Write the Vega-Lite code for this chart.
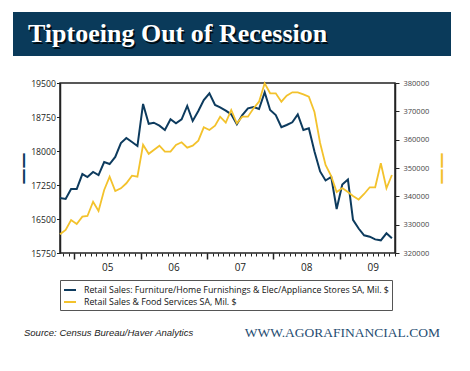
{
  "$schema": "https://vega.github.io/schema/vega-lite/v6.json",
  "background": "white",
  "padding": {"top": 12, "left": 13, "right": 10, "bottom": 5},
  "spacing": 14,
  "columns": 1,
  "align": "none",
  "bounds": "full",
  "config": {"font": "Open Sans", "view": {"stroke": null}},
  "resolve": {"scale": {"color": "independent"}, "legend": {"color": "independent"}},
  "datasets": {
    "sales": [
      {"date": "2004-10-15", "furniture": 16963, "retail": 326606},
      {"date": "2004-11-15", "furniture": 16941, "retail": 328124},
      {"date": "2004-12-15", "furniture": 17162, "retail": 331653},
      {"date": "2005-01-15", "furniture": 17162, "retail": 330241},
      {"date": "2005-02-15", "furniture": 17492, "retail": 332829},
      {"date": "2005-03-15", "furniture": 17426, "retail": 333064},
      {"date": "2005-04-15", "furniture": 17537, "retail": 338111},
      {"date": "2005-05-15", "furniture": 17470, "retail": 334829},
      {"date": "2005-06-15", "furniture": 17757, "retail": 342240},
      {"date": "2005-07-15", "furniture": 17713, "retail": 346934},
      {"date": "2005-08-15", "furniture": 17868, "retail": 341887},
      {"date": "2005-09-15", "furniture": 18176, "retail": 342829},
      {"date": "2005-10-15", "furniture": 18287, "retail": 344605},
      {"date": "2005-11-15", "furniture": 18199, "retail": 347288},
      {"date": "2005-12-15", "furniture": 18110, "retail": 346934},
      {"date": "2006-01-15", "furniture": 19037, "retail": 358200},
      {"date": "2006-02-15", "furniture": 18600, "retail": 355000},
      {"date": "2006-03-15", "furniture": 18624, "retail": 356356},
      {"date": "2006-04-15", "furniture": 18558, "retail": 357873},
      {"date": "2006-05-15", "furniture": 18463, "retail": 355756},
      {"date": "2006-06-15", "furniture": 18699, "retail": 355756},
      {"date": "2006-07-15", "furniture": 18611, "retail": 358120},
      {"date": "2006-08-15", "furniture": 18699, "retail": 359073},
      {"date": "2006-09-15", "furniture": 18993, "retail": 357167},
      {"date": "2006-10-15", "furniture": 18662, "retail": 357873},
      {"date": "2006-11-15", "furniture": 18882, "retail": 359638},
      {"date": "2006-12-15", "furniture": 19125, "retail": 364367},
      {"date": "2007-01-15", "furniture": 19273, "retail": 363414},
      {"date": "2007-02-15", "furniture": 19015, "retail": 364932},
      {"date": "2007-03-15", "furniture": 18964, "retail": 368107},
      {"date": "2007-04-15", "furniture": 18889, "retail": 366000},
      {"date": "2007-05-15", "furniture": 18809, "retail": 370472},
      {"date": "2007-06-15", "furniture": 18589, "retail": 365778},
      {"date": "2007-07-15", "furniture": 18794, "retail": 368107},
      {"date": "2007-08-15", "furniture": 18942, "retail": 368107},
      {"date": "2007-09-15", "furniture": 18971, "retail": 371072},
      {"date": "2007-10-15", "furniture": 18926, "retail": 373401},
      {"date": "2007-11-15", "furniture": 19295, "retail": 379894},
      {"date": "2007-12-15", "furniture": 18904, "retail": 376365},
      {"date": "2008-01-15", "furniture": 18794, "retail": 376365},
      {"date": "2008-02-15", "furniture": 18523, "retail": 373401},
      {"date": "2008-03-15", "furniture": 18573, "retail": 375518},
      {"date": "2008-04-15", "furniture": 18633, "retail": 376718},
      {"date": "2008-05-15", "furniture": 18809, "retail": 376718},
      {"date": "2008-06-15", "furniture": 18463, "retail": 376000},
      {"date": "2008-07-15", "furniture": 18501, "retail": 375165},
      {"date": "2008-08-15", "furniture": 17990, "retail": 369766},
      {"date": "2008-09-15", "furniture": 17550, "retail": 358826},
      {"date": "2008-10-15", "furniture": 17350, "retail": 351062},
      {"date": "2008-11-15", "furniture": 17430, "retail": 347181},
      {"date": "2008-12-15", "furniture": 16720, "retail": 341534},
      {"date": "2009-01-15", "furniture": 17260, "retail": 342946},
      {"date": "2009-02-15", "furniture": 17370, "retail": 341534},
      {"date": "2009-03-15", "furniture": 16480, "retail": 340122},
      {"date": "2009-04-15", "furniture": 16290, "retail": 338887},
      {"date": "2009-05-15", "furniture": 16140, "retail": 340828},
      {"date": "2009-06-15", "furniture": 16110, "retail": 343192},
      {"date": "2009-07-15", "furniture": 16050, "retail": 343192},
      {"date": "2009-08-15", "furniture": 16030, "retail": 351662},
      {"date": "2009-09-15", "furniture": 16184, "retail": 342840},
      {"date": "2009-10-15", "furniture": 16074, "retail": 347534}
    ]
  },
  "concat": [
    {
      "width": 335,
      "height": 52,
      "view": {"stroke": null},
      "data": {"values": [{"label": "Tiptoeing Out of Recession", "left": 0, "right": 1, "bottom": 0, "top": 1, "mid": 0.5}]},
      "layer": [
        {
          "mark": {"type": "rect", "color": "#0a3a5a"},
          "encoding": {
            "x": {"field": "left", "type": "quantitative", "scale": {"domain": [0, 1], "range": [-47, 391]}, "axis": null},
            "x2": {"field": "right"},
            "y": {"field": "top", "type": "quantitative", "scale": {"domain": [0, 1], "range": [44, 0]}, "axis": null},
            "y2": {"field": "bottom"}
          }
        },
        {
          "mark": {"type": "text", "align": "left", "baseline": "middle", "font": "Liberation Serif", "fontWeight": "bold", "fontSize": 26, "color": "#000000", "opacity": 0.8, "dx": 16.5, "dy": 1.5},
          "encoding": {
            "x": {"field": "left", "type": "quantitative"},
            "y": {"field": "mid", "type": "quantitative"},
            "text": {"field": "label"}
          }
        },
        {
          "mark": {"type": "text", "align": "left", "baseline": "middle", "font": "Liberation Serif", "fontWeight": "bold", "fontSize": 26, "color": "#ffffff", "dx": 15},
          "encoding": {
            "x": {"field": "left", "type": "quantitative"},
            "y": {"field": "mid", "type": "quantitative"},
            "text": {"field": "label"}
          }
        }
      ]
    },
    {
      "width": 335,
      "height": 170,
      "view": {"stroke": "#222222", "strokeWidth": 1.5, "fill": "white"},
      "data": {"name": "sales"},
      "layer": [
        {
          "mark": {"type": "line", "strokeWidth": 2},
          "encoding": {
            "x": {
              "field": "date", "type": "temporal",
              "scale": {"domain": [{"year": 2004, "month": 10, "date": 15}, {"year": 2009, "month": 11, "date": 1}]},
              "axis": {"orient": "bottom", "tickCount": {"interval": "month", "step": 1}, "labels": false, "tickSize": 3, "tickColor": "#222222", "domain": false, "grid": false, "title": null}
            },
            "y": {
              "field": "furniture", "type": "quantitative",
              "scale": {"domain": [15750, 19500], "zero": false, "nice": false},
              "axis": {"orient": "left", "values": [15750, 16500, 17250, 18000, 18750, 19500], "format": "d", "tickSize": 3.5, "tickColor": "#222222", "labelPadding": 1, "labelFontSize": 8.7, "labelColor": "#222222", "domain": true, "domainColor": "#222222", "domainWidth": 1.5, "grid": false, "title": "——", "titleFont": "DejaVu Sans", "titleFontSize": 16, "titleFontWeight": "bold", "titleColor": "#0d3b5e", "titlePadding": 0}
            },
            "color": {
              "datum": "Retail Sales: Furniture/Home Furnishings & Elec/Appliance Stores SA, Mil. $",
              "scale": {"domain": ["Retail Sales: Furniture/Home Furnishings & Elec/Appliance Stores SA, Mil. $", "Retail Sales & Food Services  SA, Mil. $"], "range": ["#0d3b5e", "#f3c22c"]},
              "legend": {"orient": "bottom", "direction": "vertical", "title": null, "symbolType": "stroke", "symbolStrokeWidth": 2, "symbolSize": 144, "labelFontSize": 8.8, "labelLimit": 400, "labelColor": "#111111", "labelOffset": 7, "strokeColor": "#555555", "fillColor": "white", "padding": 3, "rowPadding": 0, "offset": 8}
            }
          }
        },
        {
          "mark": {"type": "line", "strokeWidth": 1.8},
          "encoding": {
            "x": {
              "field": "date", "type": "temporal",
              "axis": {"orient": "bottom", "values": [{"year": 2005, "month": 1, "date": 1}, {"year": 2006, "month": 1, "date": 1}, {"year": 2007, "month": 1, "date": 1}, {"year": 2008, "month": 1, "date": 1}, {"year": 2009, "month": 1, "date": 1}], "format": "%y", "tickSize": 6, "tickWidth": 1.5, "tickColor": "#222222", "labelOffset": 33, "labelFlush": false, "labelOverlap": false, "labelFontSize": 10, "labelPadding": 3, "labelColor": "#222222", "domain": false, "grid": false, "title": null}
            },
            "y": {
              "field": "retail", "type": "quantitative",
              "scale": {"domain": [320000, 380000], "zero": false, "nice": false},
              "axis": {"orient": "right", "values": [320000, 330000, 340000, 350000, 360000, 370000, 380000], "format": "d", "tickSize": 4, "tickColor": "#222222", "labelPadding": 4, "labelFontSize": 7.5, "labelColor": "#444444", "domain": true, "domainColor": "#222222", "domainWidth": 1.5, "grid": false, "title": "——", "titleFont": "DejaVu Sans", "titleFontSize": 16, "titleFontWeight": "bold", "titleColor": "#f3c22c", "titlePadding": 6}
            },
            "color": {"datum": "Retail Sales & Food Services  SA, Mil. $"}
          }
        }
      ],
      "resolve": {"scale": {"y": "independent"}, "axis": {"x": "independent", "y": "independent"}}
    },
    {
      "width": 335,
      "height": 6,
      "view": {"stroke": null},
      "layer": [
        {
          "data": {"values": [{"slot": "start", "label": "Source: Census Bureau/Haver Analytics"}]},
          "mark": {"type": "text", "align": "left", "baseline": "middle", "font": "Liberation Sans", "fontStyle": "italic", "fontSize": 9.5, "color": "#222222"},
          "encoding": {
            "x": {"field": "slot", "type": "nominal", "scale": {"type": "point", "domain": ["start", "end"], "range": [-36, 380], "padding": 0}, "axis": null},
            "text": {"field": "label"}
          }
        },
        {
          "data": {"values": [{"slot": "end", "label": "WWW.AGORAFINANCIAL.COM"}]},
          "mark": {"type": "text", "align": "right", "baseline": "middle", "font": "Liberation Serif", "fontSize": 13.5, "color": "#1f4d72"},
          "encoding": {
            "x": {"field": "slot", "type": "nominal", "scale": {"type": "point", "domain": ["start", "end"], "range": [-36, 380], "padding": 0}, "axis": null},
            "text": {"field": "label"}
          }
        }
      ]
    }
  ]
}
